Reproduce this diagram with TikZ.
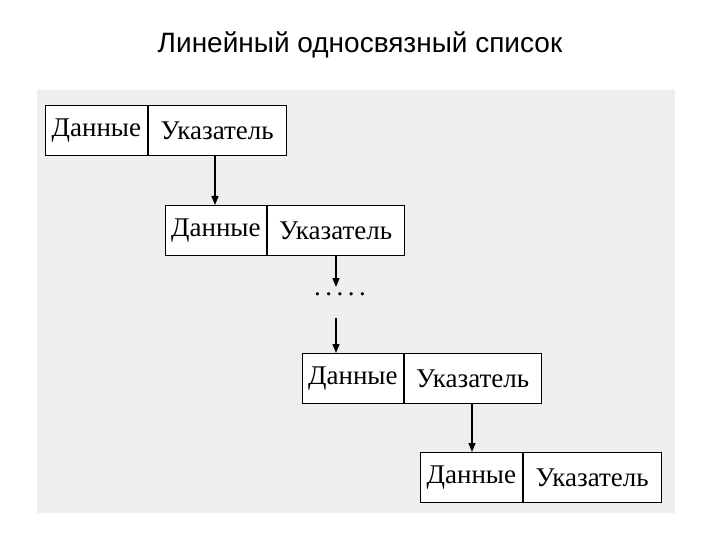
\documentclass[tikz,border=0pt]{standalone}
\usepackage{fontspec}
\setmainfont{Liberation Serif}
\newfontfamily\titlefont{Liberation Sans}
\usetikzlibrary{arrows.meta}
\definecolor{bg}{HTML}{EEEEEE}
\tikzset{cellfont/.style={font=\fontsize{27}{30}\selectfont}}
\begin{document}
\begin{tikzpicture}[x=1pt,y=-1pt,
  cell/.style={draw,line width=0.8pt,fill=white,minimum height=50pt,inner sep=0pt,anchor=north west,cellfont},
  conn/.style={line width=1.3pt,-{Triangle[length=9pt,width=7pt]}}]
\useasboundingbox (0,0) rectangle (720,540);
\fill[bg] (37,90) rectangle (675,513);
\node[font=\titlefont\fontsize{28}{32}\selectfont] (title) at (360,45) {Линейный односвязный список};
% box 1
\node[cell,minimum width=102pt] (d1) at (45,105) {Данные};
\node[cell,minimum width=138pt] (p1) at (d1.north east) {Указатель};
% box 2
\node[cell,minimum width=101pt] (d2) at (165,205) {Данные};
\node[cell,minimum width=137pt] (p2) at (d2.north east) {Указатель};
% box 3
\node[cell,minimum width=101pt] (d3) at (302,353) {Данные};
\node[cell,minimum width=137pt] (p3) at (d3.north east) {Указатель};
% box 4
\node[cell,minimum width=102pt] (d4) at (420,452) {Данные};
\node[cell,minimum width=138pt] (p4) at (d4.north east) {Указатель};
\node[cellfont] (dots) at (340,294) {.\,.\,.\,.\,.};
\coordinate (a2s) at (336,255);
\coordinate (a2e) at (336,287);
\coordinate (a3s) at (336,318);
\draw[conn] (d1.south east -| 215,0) -- (d2.north -| 215,0);
\draw[conn] (a2s) -- (a2e);
\draw[conn] (a3s) -- (d3.north -| 336,0);
\draw[conn] (d3.south -| 472,0) -- (d4.north -| 472,0);
\end{tikzpicture}
\end{document}
